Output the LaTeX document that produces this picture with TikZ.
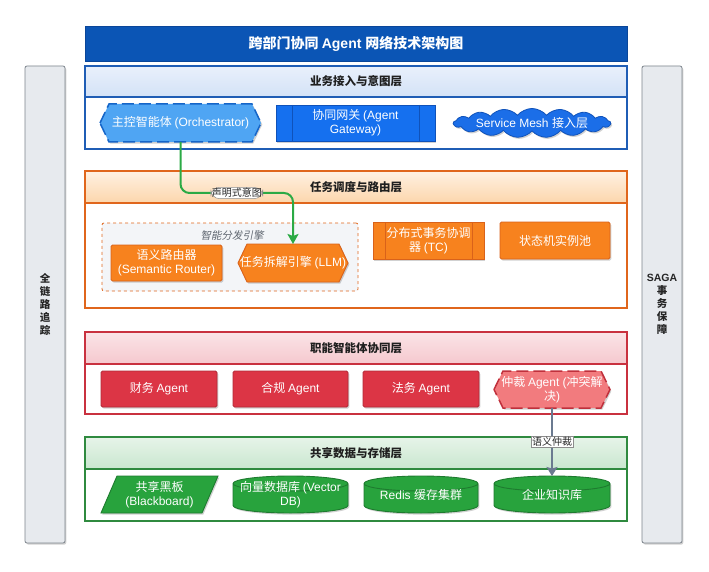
\documentclass[tikz,border=0pt]{standalone}
\usepackage{fontspec}
\setmainfont{Liberation Sans}
\newfontfamily\latinfont{Liberation Sans}
\newfontfamily\cjkfont{Noto Sans CJK SC}
\newfontfamily\cjkslant[FakeSlant=0.2]{Noto Sans CJK SC}
\usetikzlibrary{shapes.symbols,shadows,arrows.meta}
\XeTeXinterchartokenstate=1
\newXeTeXintercharclass\cjkcls
\newcount\mycnt
\mycnt="2E80
\loop\XeTeXcharclass\mycnt=\cjkcls\ifnum\mycnt<"9FFF\advance\mycnt by 1\repeat
\mycnt="FF00
\loop\XeTeXcharclass\mycnt=\cjkcls\ifnum\mycnt<"FFEF\advance\mycnt by 1\repeat
\def\cjkhook{\cjkfont}
\def\latinhook{\latinfont}
\XeTeXinterchartoks 0 \cjkcls = {\cjkhook}
\XeTeXinterchartoks 4095 \cjkcls = {\cjkhook}
\XeTeXinterchartoks \cjkcls 0 = {\latinhook}
\XeTeXinterchartoks 4095 0 = {\latinhook}

\makeatletter
\def\myinherit{%
  \inheritsavedanchors[from=rectangle]%
  \inheritanchorborder[from=rectangle]%
  \inheritanchor[from=rectangle]{center}%
  \inheritanchor[from=rectangle]{north}%
  \inheritanchor[from=rectangle]{south}%
  \inheritanchor[from=rectangle]{east}%
  \inheritanchor[from=rectangle]{west}%
  \inheritanchor[from=rectangle]{north east}%
  \inheritanchor[from=rectangle]{north west}%
  \inheritanchor[from=rectangle]{south east}%
  \inheritanchor[from=rectangle]{south west}%
  \inheritanchor[from=rectangle]{mid}%
  \inheritanchor[from=rectangle]{base}%
}
\pgfdeclareshape{hexa}{%
  \myinherit
  \backgroundpath{%
    \southwest\edef\sxa{\the\pgf@x}\edef\sya{\the\pgf@y}%
    \northeast\edef\sxb{\the\pgf@x}\edef\syb{\the\pgf@y}%
    \pgfpathmoveto{\pgfpoint{\sxa}{(\sya+\syb)/2}}%
    \pgfpathlineto{\pgfpoint{\sxa+9pt}{\syb}}%
    \pgfpathlineto{\pgfpoint{\sxb-9pt}{\syb}}%
    \pgfpathlineto{\pgfpoint{\sxb}{(\sya+\syb)/2}}%
    \pgfpathlineto{\pgfpoint{\sxb-9pt}{\sya}}%
    \pgfpathlineto{\pgfpoint{\sxa+9pt}{\sya}}%
    \pgfpathclose
  }%
}
\pgfdeclareshape{para}{%
  \myinherit
  \backgroundpath{%
    \southwest\edef\sxa{\the\pgf@x}\edef\sya{\the\pgf@y}%
    \northeast\edef\sxb{\the\pgf@x}\edef\syb{\the\pgf@y}%
    \pgfpathmoveto{\pgfpoint{\sxa}{\sya}}%
    \pgfpathlineto{\pgfpoint{\sxb-16pt}{\sya}}%
    \pgfpathlineto{\pgfpoint{\sxb}{\syb}}%
    \pgfpathlineto{\pgfpoint{\sxa+16pt}{\syb}}%
    \pgfpathclose
  }%
}
\pgfdeclareshape{dbcyl}{%
  \myinherit
  \backgroundpath{%
    \southwest\edef\sxa{\the\pgf@x}\edef\sya{\the\pgf@y}%
    \northeast\edef\sxb{\the\pgf@x}\edef\syb{\the\pgf@y}%
    \pgfmathsetmacro\srx{(\sxb-\sxa)/2}%
    \pgfpathmoveto{\pgfpoint{\sxa}{\syb-7.5pt}}%
    \pgfpathlineto{\pgfpoint{\sxa}{\sya+7.5pt}}%
    \pgfpatharc{180}{360}{\srx pt and 7.5pt}%
    \pgfpathlineto{\pgfpoint{\sxb}{\syb-7.5pt}}%
    \pgfpatharc{0}{180}{\srx pt and 7.5pt}%
    \pgfpathclose
    \pgfpathmoveto{\pgfpoint{\sxa}{\syb-7.5pt}}%
    \pgfpatharc{180}{360}{\srx pt and 7.5pt}%
  }%
}
\makeatother

\definecolor{titleblue}{HTML}{0B55B5}
\definecolor{titlebd}{HTML}{0A4699}
\definecolor{bdA}{HTML}{1F5DB5}
\definecolor{bdB}{HTML}{E0661C}
\definecolor{bdC}{HTML}{C9313F}
\definecolor{bdD}{HTML}{2F8A3F}
\definecolor{htA}{HTML}{E9F0FB}
\definecolor{hbA}{HTML}{D3E2F7}
\definecolor{htB}{HTML}{FFF1E2}
\definecolor{hbB}{HTML}{FCD6AC}
\definecolor{htC}{HTML}{FBE4E7}
\definecolor{hbC}{HTML}{F5C8CE}
\definecolor{htD}{HTML}{E7F4E9}
\definecolor{hbD}{HTML}{C9E7CF}
\definecolor{orcfill}{HTML}{4FA5F3}
\definecolor{orcbd}{HTML}{1565C8}
\definecolor{gwfill}{HTML}{1570EF}
\definecolor{gwbd}{HTML}{0F52BA}
\definecolor{cloudfill}{HTML}{1B6EE8}
\definecolor{orfill}{HTML}{F7821E}
\definecolor{orbd}{HTML}{D9621A}
\definecolor{grpfill}{HTML}{F3F5F8}
\definecolor{redfill}{HTML}{DC3545}
\definecolor{redbd}{HTML}{B02A37}
\definecolor{arbfill}{HTML}{F27B7E}
\definecolor{arbbd}{HTML}{C0303C}
\definecolor{grfill}{HTML}{28A33D}
\definecolor{grbd}{HTML}{1E7B2F}
\definecolor{sidefill}{HTML}{E7EAEE}
\definecolor{sidebd}{HTML}{7D848C}
\definecolor{garrowc}{HTML}{2BAA45}
\definecolor{yarrowc}{HTML}{6B7A90}
\definecolor{grplabel}{HTML}{5F6670}

\begin{document}
\begin{tikzpicture}[x=1pt,y=-1pt,
  shad/.style={drop shadow={shadow xshift=1.3pt,shadow yshift=-1.6pt,opacity=0.18,fill=black}},
  nd/.style={outer sep=0pt,inner sep=1.5pt,align=center,text=white,font=\fontsize{12}{14}\selectfont,line width=0.9pt},
  layerbody/.style={outer sep=0pt,minimum width=542pt,minimum height=#1,line width=1.1pt,fill=white},
  layerhead/.style={outer sep=0pt,minimum width=542pt,minimum height=#1,line width=1.1pt,font=\bfseries\fontsize{11.5}{13}\selectfont,text=black!88},
  sidebar/.style={outer sep=0pt,minimum width=40pt,minimum height=477pt,rounded corners=2pt,fill=sidefill,draw=sidebd,line width=0.8pt,align=center,font=\bfseries\fontsize{10.5}{13}\selectfont,text=black!85,shad},
  proclines/.style 2 args={path picture={\draw[draw=#1,line width=0.8pt]
      ([xshift=#2]path picture bounding box.north west) -- ([xshift=#2]path picture bounding box.south west)
      ([xshift=-#2]path picture bounding box.north east) -- ([xshift=-#2]path picture bounding box.south east);}},
  orangebox/.style={nd,shape=rectangle,fill=orfill,draw=orbd,rounded corners=1.5pt,shad},
  redbox/.style={nd,shape=rectangle,fill=redfill,draw=redbd,rounded corners=1.5pt,minimum width=#1,minimum height=36pt,shad},
  greencyl/.style={nd,shape=dbcyl,fill=grfill,draw=grbd,minimum height=37pt,minimum width=#1,shad},
  dashhex/.style={line width=1.5pt,dash pattern=on 12pt off 5pt},
  lbl/.style={fill=white,draw=black!45,line width=0.5pt,inner sep=1pt,text=black!85,font=\fontsize{10}{11}\selectfont},
  garrow/.style={draw=garrowc,line width=2pt,rounded corners=9pt,-{Stealth[length=10pt,width=11pt,inset=2pt]}},
  yarrow/.style={draw=yarrowc,line width=1.6pt,-{Stealth[length=9pt,width=11pt,inset=1.5pt]}}
]
\useasboundingbox (0,0) rectangle (709,572);
\fill[white] (0,0) rectangle (709,572);

% title
\node[outer sep=0pt,minimum width=542pt,minimum height=35pt,fill=titleblue,draw=titlebd,line width=0.8pt,text=white,font=\bfseries\fontsize{14}{16}\selectfont] (title) at (356,43.5) {跨部门协同 Agent 网络技术架构图};

% side bars
\node[sidebar] (trace) at (45,304.5) {全\\链\\路\\追\\踪};
\node[sidebar] (saga) at (662,304.5) {SAGA\\事\\务\\保\\障};

% layer 1
\node[layerbody=52pt,draw=bdA] (b1) at (356,123) {};
\node[layerhead=31pt,draw=bdA,top color=htA,bottom color=hbA] (h1) at (356,81.5) {业务接入与意图层};
\node[nd,shape=hexa,minimum width=161pt,minimum height=38pt,fill=orcfill,draw=orcbd,dashhex,shad] (orc) at (180.5,123) {主控智能体 (Orchestrator)};
\node[nd,shape=rectangle,minimum width=159pt,minimum height=36pt,fill=gwfill,draw=gwbd,proclines={gwbd}{16pt},shad] (gw) at (355.5,123) {协同网关 (Agent\\Gateway)};
\node[nd,shape=cloud,cloud puffs=17,cloud puff arc=100,cloud ignores aspect,minimum width=146pt,minimum height=27pt,inner sep=0pt,fill=cloudfill,draw=gwbd,line width=0.8pt,shad] (mesh) at (532,123) {Service Mesh 接入层};

% layer 2
\node[layerbody=105pt,draw=bdB] (b2) at (356,255.5) {};
\node[layerhead=32pt,draw=bdB,top color=htB,bottom color=hbB] (h2) at (356,187) {任务调度与路由层};
\node[outer sep=0pt,minimum width=256pt,minimum height=68pt,fill=grpfill,draw=bdB,dashed,line width=0.8pt,rounded corners=2pt] (grp) at (230,257) {};
\node[font=\fontsize{10.5}{12}\selectfont,text=grplabel,inner sep=0pt] (grplbl) at (232,236) {\def\cjkhook{\cjkslant}智能分发引擎};
\node[orangebox,minimum width=111pt,minimum height=36pt] (router) at (166.5,263) {语义路由器\\(Semantic Router)};
\node[nd,shape=hexa,minimum width=110pt,minimum height=38pt,inner xsep=0pt,fill=orfill,draw=orbd,shad] (llm) at (293,263) {任务拆解引擎 (LLM)};
\node[nd,shape=rectangle,minimum width=111pt,minimum height=37pt,fill=orfill,draw=orbd,proclines={orbd}{12pt},shad] (tc) at (428.5,240.5) {分布式事务协调\\器 (TC)};
\node[orangebox,minimum width=110pt,minimum height=37pt] (pool) at (555,240.5) {状态机实例池};

% layer 3
\node[layerbody=50pt,draw=bdC] (b3) at (356,389) {};
\node[layerhead=32pt,draw=bdC,top color=htC,bottom color=hbC] (h3) at (356,348) {职能智能体协同层};
\node[redbox=116pt] (fin) at (159,389) {财务 Agent};
\node[redbox=115pt] (comp) at (290.5,389) {合规 Agent};
\node[redbox=116pt] (legal) at (421,389) {法务 Agent};
\node[nd,shape=hexa,minimum width=116pt,minimum height=37pt,inner xsep=0pt,fill=arbfill,draw=arbbd,dashhex,shad] (arb) at (552,389.5) {仲裁 Agent (冲突解\\决)};

% layer 4
\node[layerbody=52pt,draw=bdD] (b4) at (356,495) {};
\node[layerhead=32pt,draw=bdD,top color=htD,bottom color=hbD] (h4) at (356,453) {共享数据与存储层};
\node[nd,shape=para,minimum width=117pt,minimum height=37pt,fill=grfill,draw=grbd,shad] (board) at (159.5,494.5) {共享黑板\\(Blackboard)};
\node[greencyl=115pt] (vec) at (290.5,494.5) {向量数据库 (Vector\\DB)};
\node[greencyl=114pt] (redis) at (421,494.5) {Redis 缓存集群};
\node[greencyl=116pt] (kb) at (552,494.5) {企业知识库};

% connectors
\draw[garrow] (orc.south) -- ++(0,51) -| (llm.north) node[pos=0.25,lbl] (lblA) {声明式意图};
\draw[yarrow] (arb.south) -- (kb.north) node[midway,lbl] (lblB) {语义仲裁};
\end{tikzpicture}
\end{document}
